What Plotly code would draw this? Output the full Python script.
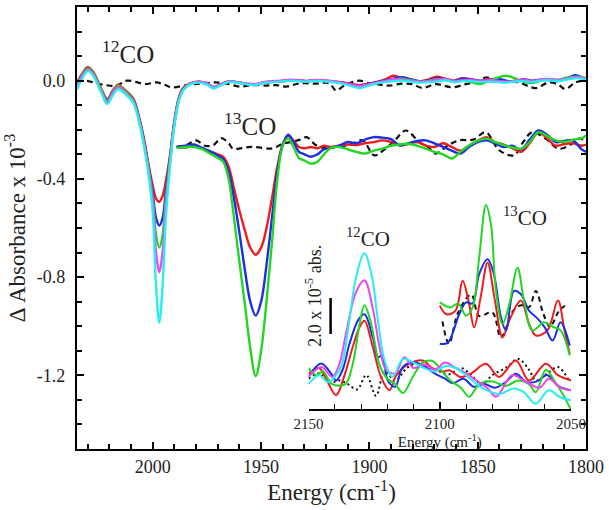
import plotly.graph_objects as go

# ---------------- DATA ----------------
# Main panel, 12CO band (energy in cm-1, values in 1e-3 absorbance)
E12_front = [2035, 2032.5, 2030, 2027.5, 2024, 2021, 2018.5, 2016, 2012, 2009, 2006, 2004,
             2002, 2000, 1998.5, 1997, 1995.5, 1994, 1992, 1990, 1988, 1986]
E12_base = [1983, 1979, 1975, 1972, 1969, 1965, 1961, 1957, 1953, 1949, 1945, 1941, 1937,
            1933, 1929, 1925, 1921, 1917, 1913, 1909, 1905, 1901, 1897, 1893, 1889, 1885,
            1881, 1877, 1873, 1869, 1865, 1861, 1857, 1853, 1849, 1845, 1841, 1837, 1833,
            1829, 1825, 1821, 1817, 1813, 1809, 1805, 1801, 1800]
E12 = E12_front + E12_base

red12_front = [-0.01, 0.03, 0.055, 0.035, -0.03, -0.075, -0.04, -0.017, -0.045, -0.073, -0.16, -0.24,
               -0.34, -0.43, -0.48, -0.493, -0.47, -0.41, -0.30, -0.16, -0.07, -0.03]
blue12_front = [-0.02, 0.025, 0.05, 0.03, -0.035, -0.08, -0.045, -0.022, -0.05, -0.078, -0.165, -0.25,
                -0.35, -0.46, -0.56, -0.59, -0.56, -0.45, -0.31, -0.165, -0.075, -0.035]
green12_front = [-0.02, 0.025, 0.05, 0.03, -0.035, -0.082, -0.045, -0.02, -0.05, -0.08, -0.17, -0.255,
                 -0.355, -0.48, -0.63, -0.68, -0.63, -0.48, -0.32, -0.17, -0.078, -0.037]
magenta12_front = [-0.025, 0.02, 0.045, 0.025, -0.04, -0.088, -0.05, -0.027, -0.055, -0.085, -0.175, -0.26,
                   -0.365, -0.50, -0.70, -0.78, -0.70, -0.51, -0.33, -0.175, -0.08, -0.038]
cyan12_front = [-0.035, 0.01, 0.04, 0.02, -0.045, -0.095, -0.06, -0.035, -0.06, -0.09, -0.18, -0.27,
                -0.38, -0.54, -0.84, -0.985, -0.84, -0.56, -0.34, -0.18, -0.085, -0.04]

red12_base = [-0.012, -0.004, -0.01, -0.026, -0.016, -0.003, -0.006, -0.012, -0.016, -0.008, -0.004, -0.002,
              0.002, 0.0, -0.003, 0.002, 0.0, -0.003, -0.006, -0.012, -0.018, -0.014, -0.006, 0.004,
              0.02, 0.01, 0.004, -0.003, 0.004, 0.016, 0.008, 0.0, 0.01, 0.004, -0.002, 0.006,
              0.004, -0.004, 0.0, 0.004, -0.006, 0.002, 0.006, 0.0, 0.01, 0.016, 0.008, 0.006]
blue12_base = [-0.014, -0.005, -0.012, -0.027, -0.017, -0.004, -0.007, -0.013, -0.016, -0.009, -0.005, -0.003,
               0.0, 0.001, -0.002, 0.001, -0.001, -0.004, -0.008, -0.014, -0.022, -0.015, -0.006, 0.0,
               0.008, 0.014, 0.006, -0.002, 0.0, 0.01, 0.006, -0.002, 0.008, 0.006, 0.0, 0.002,
               0.008, 0.0, -0.004, 0.006, 0.0, 0.004, 0.002, -0.002, 0.008, 0.022, 0.01, 0.008]
green12_base = [-0.014, -0.004, -0.012, -0.028, -0.018, -0.004, -0.007, -0.013, -0.017, -0.009, -0.005, -0.003,
                0.001, 0.0, -0.003, 0.001, -0.001, -0.004, -0.01, -0.016, -0.024, -0.018, -0.01, -0.004,
                0.004, 0.008, 0.002, -0.004, -0.002, 0.006, 0.004, -0.006, 0.0, -0.006, -0.014, -0.002,
                0.012, 0.02, 0.01, -0.004, -0.01, 0.0, 0.006, 0.004, 0.012, 0.016, 0.012, 0.008]
magenta12_base = [-0.013, -0.004, -0.011, -0.027, -0.017, -0.003, -0.006, -0.012, -0.014, -0.006, -0.002, 0.0,
                  0.004, 0.002, -0.001, 0.003, 0.001, -0.002, -0.008, -0.014, -0.022, -0.016, -0.008, -0.002,
                  0.006, 0.004, 0.0, -0.004, -0.002, 0.004, 0.006, -0.002, 0.002, 0.004, -0.002, 0.002,
                  0.0, -0.004, -0.002, 0.004, -0.002, 0.004, 0.006, 0.002, 0.008, 0.014, 0.012, 0.01]
cyan12_base = [-0.016, -0.008, -0.016, -0.032, -0.02, -0.006, -0.008, -0.014, -0.018, -0.01, -0.006, -0.004,
               0.0, -0.002, -0.004, -0.001, -0.003, -0.006, -0.012, -0.02, -0.03, -0.022, -0.012, -0.006,
               -0.002, 0.0, -0.004, -0.008, -0.006, -0.004, 0.002, -0.006, -0.002, -0.002, -0.006, -0.004,
               -0.006, -0.008, -0.004, -0.002, -0.006, 0.0, 0.002, -0.002, 0.004, 0.01, 0.008, 0.006]

Eblack12 = [2035, 2031, 2027, 2022, 2017, 2012, 2008, 2003.7, 1998.3, 1995, 1991.4, 1985.3, 1980.7,
            1975, 1971.4, 1966, 1960, 1954, 1947.6, 1943, 1938.4, 1932.3, 1925, 1918.5, 1915.4,
            1911.6, 1904.7, 1900.1, 1895, 1890.9, 1885, 1880, 1875.5, 1869.4, 1861.7, 1855.5,
            1850, 1846.3, 1840, 1835, 1831, 1823.3, 1817.2, 1813, 1809.5, 1804.9, 1800]
black12 = [0.0, 0.0, -0.008, -0.018, -0.02, 0.0, -0.005, -0.014, -0.007, -0.015, -0.027, -0.02, -0.014,
           -0.01, -0.007, -0.012, -0.024, -0.018, -0.02, -0.018, -0.024, -0.011, -0.012, -0.011, -0.04,
           -0.02, 0.0, -0.011, -0.016, -0.02, -0.012, -0.015, -0.03, -0.014, -0.027, -0.014,
           -0.005, 0.013, -0.002, -0.005, -0.007, -0.03, -0.007, -0.015, -0.034, -0.007, 0.0]

# Main panel, 13CO band
E13_front = [1989, 1985, 1981, 1977, 1973, 1970, 1967.5, 1965, 1962.5, 1960, 1957.5, 1955, 1952.5,
             1950, 1947.5, 1945, 1942.5, 1940, 1937.5, 1935, 1932.5, 1930, 1927, 1924, 1921]
E13_noise = [1918, 1914, 1910, 1906, 1902, 1898, 1894, 1890, 1886, 1882, 1878, 1874, 1870, 1866,
             1862, 1858, 1854, 1850, 1846, 1842, 1838, 1834, 1830, 1826, 1822, 1818, 1814, 1810,
             1806, 1802, 1800]
E13 = E13_front + E13_noise

red13 = [-0.27, -0.272, -0.265, -0.277, -0.29, -0.30, -0.31, -0.35, -0.44, -0.53, -0.61, -0.68, -0.709,
         -0.68, -0.60, -0.48, -0.35, -0.26, -0.225, -0.245, -0.27, -0.275, -0.27, -0.275, -0.265] + \
        [-0.27, -0.265, -0.26, -0.262, -0.255, -0.25, -0.243, -0.25, -0.262, -0.258, -0.25, -0.264, -0.27,
         -0.255, -0.27, -0.285, -0.265, -0.245, -0.23, -0.25, -0.26, -0.275, -0.29, -0.255, -0.21, -0.235,
         -0.265, -0.258, -0.255, -0.265, -0.26]
blue13 = [-0.27, -0.265, -0.26, -0.275, -0.29, -0.305, -0.32, -0.37, -0.48, -0.62, -0.77, -0.90, -0.957,
          -0.90, -0.75, -0.56, -0.37, -0.26, -0.22, -0.25, -0.29, -0.30, -0.31, -0.30, -0.28] + \
         [-0.275, -0.265, -0.25, -0.255, -0.24, -0.23, -0.232, -0.238, -0.264, -0.255, -0.245, -0.243, -0.255,
          -0.27, -0.285, -0.297, -0.27, -0.25, -0.243, -0.255, -0.27, -0.265, -0.28, -0.24, -0.203, -0.22,
          -0.25, -0.245, -0.243, -0.28, -0.29]
green13 = [-0.275, -0.27, -0.27, -0.28, -0.30, -0.315, -0.33, -0.40, -0.56, -0.74, -0.91, -1.09, -1.203,
           -1.10, -0.90, -0.66, -0.40, -0.265, -0.235, -0.27, -0.315, -0.325, -0.338, -0.33, -0.30] + \
          [-0.275, -0.27, -0.28, -0.29, -0.297, -0.285, -0.277, -0.265, -0.26, -0.257, -0.265, -0.277, -0.29,
           -0.30, -0.317, -0.29, -0.264, -0.245, -0.236, -0.25, -0.262, -0.272, -0.277, -0.25, -0.21, -0.225,
           -0.243, -0.25, -0.24, -0.235, -0.223]

Eblack13 = [1989, 1984, 1980, 1976, 1972, 1968.4, 1965, 1963, 1959, 1955, 1951, 1946, 1943, 1940,
            1936, 1932, 1929, 1924.6, 1920, 1915.5, 1909, 1903.2, 1897.8, 1893, 1888, 1883.2, 1877,
            1873, 1869.4, 1864, 1858.6, 1852, 1846.3, 1840, 1833.3, 1829, 1824.9, 1818.7, 1812.6,
            1807, 1803.4, 1800]
black13 = [-0.27, -0.26, -0.243, -0.265, -0.262, -0.234, -0.255, -0.277, -0.275, -0.27, -0.272, -0.277,
           -0.27, -0.256, -0.25, -0.24, -0.23, -0.263, -0.275, -0.27, -0.26, -0.243, -0.304, -0.28, -0.24,
           -0.203, -0.25, -0.27, -0.297, -0.265, -0.243, -0.24, -0.21, -0.284, -0.304, -0.25, -0.21,
           -0.236, -0.277, -0.26, -0.236, -0.245]

# Inset (energy in cm-1, values in 1e-5 absorbance units, arbitrary offset)
inset12_red_E = [2150, 2146, 2143, 2139.5, 2136.5, 2133.2, 2130.5, 2128.7, 2125.5, 2122.4, 2119.2, 2116.5,
                 2111.6, 2106.5, 2103, 2099, 2096.4, 2092, 2088, 2082.4, 2077.5, 2071, 2066, 2059.6, 2055, 2050]
inset12_red = [2.0, 2.3, 1.6, 0.78, 1.8, 3.46, 4.6, 4.94, 3.46, 1.8, 1.06, 1.9,
               2.54, 2.72, 2.3, 2.1, 2.17, 1.8, 2.0, 2.54, 1.8, 2.72, 1.6, 2.54, 1.9, 1.6]
inset12_blue_E = [2150, 2145.2, 2141, 2139.5, 2137, 2134.4, 2131, 2128.7, 2125.5, 2123.5, 2122, 2119.8, 2117,
                  2114.1, 2110, 2106, 2102, 2098, 2095, 2091, 2087, 2083, 2079, 2075, 2071, 2067, 2063,
                  2059, 2055, 2050]
inset12_blue = [1.8, 2.55, 1.9, 1.6, 2.2, 3.65, 5.0, 5.3, 4.0, 2.9, 3.0, 1.6, 1.25,
                2.35, 2.6, 2.4, 2.0, 1.7, 1.45, 1.7, 1.25, 1.4, 1.2, 1.5, 1.98, 1.5, 1.55,
                1.9, 1.3, 1.05]
inset12_green_E = [2150, 2147, 2144.5, 2141, 2136, 2133.2, 2130.5, 2128.7, 2126.2, 2123, 2120, 2117, 2114,
                   2110.3, 2106.5, 2103, 2099, 2096, 2092, 2088.8, 2085, 2080, 2075, 2070, 2066, 2063.4,
                   2059.6, 2056, 2053, 2050]
inset12_green = [2.3, 1.9, 2.1, 1.4, 1.4, 2.5, 4.8, 5.8, 4.8, 2.5, 1.7, 1.4, 0.9,
                 1.8, 2.6, 2.7, 2.1, 1.6, 1.2, 0.7, 1.4, 1.55, 1.3, 1.6, 1.4, 0.95,
                 2.2, 1.5, 0.8, -0.05]
inset12_magenta_E = [2150, 2145, 2141, 2138.5, 2135.5, 2132, 2128.7, 2125.5, 2123, 2120.5, 2117, 2113.5,
                     2110, 2106, 2102, 2098, 2094, 2090, 2086, 2082, 2078.5, 2072.5, 2068, 2062, 2058.5,
                     2054, 2050]
inset12_magenta = [1.8, 2.35, 1.8, 2.4, 4.4, 6.5, 7.2, 5.6, 3.5, 2.2, 2.0, 2.9,
                   2.3, 2.5, 2.2, 2.6, 2.3, 2.0, 1.6, 1.2, 0.7, 1.9, 1.6, 1.2, 1.7,
                   1.2, 1.05]
inset12_cyan_E = [2150, 2146, 2142.5, 2140, 2137.5, 2134.5, 2132, 2128.7, 2126, 2123.5, 2121, 2118, 2114,
                  2110, 2106, 2102, 2098, 2094, 2090, 2086, 2082, 2077, 2072, 2068, 2063.5, 2058.5, 2054, 2050]
inset12_cyan = [1.4, 1.9, 1.5, 1.8, 2.4, 4.9, 7.3, 8.7, 7.5, 4.9, 2.7, 1.8, 2.8,
                2.6, 2.3, 2.1, 2.4, 2.3, 1.9, 1.4, 1.05, 0.85, 1.15, 0.95, 0.3, 1.05, 0.65, 0.5]
inset12_black_E = [2150, 2146, 2142, 2138, 2135, 2131.5, 2128, 2124.3, 2121, 2117, 2112.5, 2108, 2104, 2100,
                   2096.4, 2092, 2088, 2084, 2080, 2075, 2070, 2066, 2063.4, 2059, 2055, 2050.8]
inset12_black = [1.7, 2.0, 1.5, 1.6, 1.4, 1.1, 1.9, 0.75, 2.1, 1.6, 2.3, 2.6, 2.3, 2.1,
                 1.95, 2.3, 1.9, 1.4, 1.9, 2.3, 2.8, 2.2, 1.6, 2.0, 2.35, 1.6]

inset13_red_E = [2100, 2097.5, 2094, 2091.3, 2089, 2086.9, 2084.5, 2081.8, 2079, 2076.1, 2073, 2069.1,
                 2066, 2063.4, 2059, 2055, 2052.5, 2050.5]
inset13_red = [5.78, 5.3, 5.5, 7.17, 6.0, 4.57, 6.2, 8.18, 6.06, 4.02, 5.13, 6.06,
               4.76, 4.11, 4.4, 6.06, 4.4, 3.09]
inset13_blue_E = [2100, 2097, 2092.6, 2090, 2087.5, 2085, 2081.8, 2079.5, 2076.7, 2074.8, 2071.7, 2069,
                  2066, 2063, 2060, 2057, 2054, 2050.5]
inset13_blue = [3.65, 3.7, 5.3, 5.96, 5.9, 7.54, 8.37, 7.6, 5.13, 4.39, 6.6, 6.4,
                5.5, 5.1, 4.57, 3.83, 4.85, 3.56]
inset13_green_E = [2100, 2096, 2093, 2090, 2087.5, 2085, 2082.4, 2080.5, 2078.6, 2076.1, 2073.5, 2070.4,
                   2067.9, 2064.7, 2060.3, 2057, 2054, 2050.5]
inset13_green = [5.96, 5.68, 5.9, 5.22, 5.68, 8.46, 11.4, 10.3, 6.6, 4.76, 5.87, 7.9,
                 6.06, 4.39, 4.85, 4.6, 4.4, 3.0]
inset13_black_E = [2099, 2096.5, 2093, 2088, 2085, 2080, 2076.7, 2072, 2069, 2066, 2063.4, 2060.5,
                   2058, 2054.5, 2051]
inset13_black = [4.9, 3.65, 5.4, 6.4, 5.2, 5.4, 4.0, 5.5, 5.8, 5.7, 6.6, 5.3,
                 4.6, 5.5, 5.9]

# Tick labels
main_xticks = [2000, 1950, 1900, 1850, 1800]
main_xticktext = ["2000", "1950", "1900", "1850", "1800"]
main_yticks = [0.0, -0.4, -0.8, -1.2]
main_yticktext = ["0.0", "-0.4", "-0.8", "-1.2"]
inset_xticks = [2150, 2100, 2050]
inset_xticktext = ["2150", "2100", "2050"]
scale_bar_size = 2.0  # 2.0 x 10^-5 abs.

# ---------------- STYLE ----------------
RED = "#f01c1c"
BLUE = "#1c2ee6"
GREEN = "#22d622"
MAGENTA = "#f046f0"
CYAN = "#26eef2"
BLACK = "#111111"
FONT = "Liberation Serif"

fig = go.Figure()


def line(x, y, color, width=2.4, dash=None, xa="x", ya="y"):
    fig.add_trace(go.Scatter(
        x=x, y=y, mode="lines", xaxis=xa, yaxis=ya, showlegend=False,
        line=dict(color=color, width=width, shape="spline", dash=dash)))


# main 12CO
line(Eblack12, black12, BLACK, 2.2, "6px,4px")
line(E12, red12_front + red12_base, RED)
line(E12, blue12_front + blue12_base, BLUE)
line(E12, green12_front + green12_base, GREEN)
line(E12, magenta12_front + magenta12_base, MAGENTA)
line(E12, cyan12_front + cyan12_base, CYAN)
# main 13CO
line(Eblack13, black13, BLACK, 2.2, "6px,4px")
line(E13, red13, RED)
line(E13, blue13, BLUE)
line(E13, green13, GREEN)

# inset
line(inset12_black_E, inset12_black, BLACK, 2.0, "2px,3px", "x2", "y2")
line(inset12_red_E, inset12_red, RED, 2.0, None, "x2", "y2")
line(inset12_blue_E, inset12_blue, BLUE, 2.0, None, "x2", "y2")
line(inset12_green_E, inset12_green, GREEN, 2.0, None, "x2", "y2")
line(inset12_magenta_E, inset12_magenta, MAGENTA, 2.0, None, "x2", "y2")
line(inset12_cyan_E, inset12_cyan, CYAN, 2.0, None, "x2", "y2")
line(inset13_black_E, inset13_black, BLACK, 2.0, "5px,4px", "x2", "y2")
line(inset13_red_E, inset13_red, RED, 2.0, None, "x2", "y2")
line(inset13_blue_E, inset13_blue, BLUE, 2.0, None, "x2", "y2")
line(inset13_green_E, inset13_green, GREEN, 2.0, None, "x2", "y2")

tickfont = dict(family=FONT, size=18, color="#222")

fig.update_layout(
    width=609, height=510,
    margin=dict(l=77, r=22, t=5, b=61),
    paper_bgcolor="white", plot_bgcolor="white",
    font=dict(family=FONT, color="#222"),
    xaxis=dict(
        range=[2035, 1800], tickmode="array", tickvals=main_xticks, ticktext=main_xticktext,
        ticks="inside", ticklen=7, tickwidth=1.8, tickcolor="black",
        showline=True, linewidth=2.2, linecolor="black", mirror="ticks",
        showgrid=False, zeroline=False, tickfont=tickfont,
        minor=dict(dtick=10, tick0=2000, ticks="inside", ticklen=5, tickwidth=1.5, tickcolor="black", showgrid=False),
        title=dict(text="Energy (cm<sup>-1</sup>)", font=dict(family=FONT, size=23, color="#222"), standoff=8),
    ),
    yaxis=dict(
        range=[-1.5, 0.3], tickmode="array", tickvals=main_yticks, ticktext=main_yticktext,
        ticks="inside", ticklen=7, tickwidth=1.8, tickcolor="black",
        showline=True, linewidth=2.2, linecolor="black", mirror="ticks",
        showgrid=False, zeroline=False, tickfont=tickfont, ticklabelstandoff=6,
        minor=dict(dtick=0.1, tick0=0, ticks="inside", ticklen=5, tickwidth=1.5, tickcolor="black", showgrid=False),
        title=dict(text="\u0394 Absorbance x 10<sup>-3</sup>", font=dict(family=FONT, size=23, color="#222"), standoff=5),
    ),
    xaxis2=dict(
        domain=[0.4549, 0.9706], anchor="y2", range=[2150, 2050],
        tickmode="array", tickvals=inset_xticks, ticktext=inset_xticktext,
        ticks="inside", ticklen=7, tickwidth=1.6, tickcolor="black",
        showline=True, linewidth=2, linecolor="black", mirror=False,
        showgrid=False, zeroline=False, tickfont=dict(family=FONT, size=15, color="#222"),
        minor=dict(dtick=10, tick0=2150, ticks="inside", ticklen=5, tickwidth=1.4, tickcolor="black", showgrid=False),
        title=dict(text="Energy (cm<sup>-1</sup>)", font=dict(family=FONT, size=15, color="#222"), standoff=0),
    ),
    yaxis2=dict(
        domain=[0.0901, 0.572], anchor="x2", range=[0, 11.89], visible=False,
    ),
)

# scale bar in inset units
fig.add_shape(type="line", xref="x2", yref="y2", x0=2141.6, x1=2141.6, y0=4.2, y1=4.2 + scale_bar_size,
              line=dict(color="black", width=2.5))

ann_font = dict(family=FONT, color="#222")
fig.add_annotation(xref="x2", yref="y2", x=2148.1, y=6.3, text="2.0 x 10<sup>-5</sup> abs.",
                   textangle=-90, showarrow=False, font=dict(size=18, **ann_font))
fig.add_annotation(xref="paper", yref="paper", x=0.045, y=0.899, xanchor="left", yanchor="middle",
                   text="<sup>12</sup>CO", showarrow=False, font=dict(size=25, **ann_font))
fig.add_annotation(xref="paper", yref="paper", x=0.284, y=0.736, xanchor="left", yanchor="middle",
                   text="<sup>13</sup>CO", showarrow=False, font=dict(size=25, **ann_font))
fig.add_annotation(xref="paper", yref="paper", x=0.5255, y=0.4775, xanchor="left", yanchor="middle",
                   text="<sup>12</sup>CO", showarrow=False, font=dict(size=21, **ann_font))
fig.add_annotation(xref="paper", yref="paper", x=0.833, y=0.525, xanchor="left", yanchor="middle",
                   text="<sup>13</sup>CO", showarrow=False, font=dict(size=21, **ann_font))

fig.write_html("out.html", config={"displayModeBar": False},
               post_script="document.body.style.margin='0';document.body.style.overflow='hidden';")
